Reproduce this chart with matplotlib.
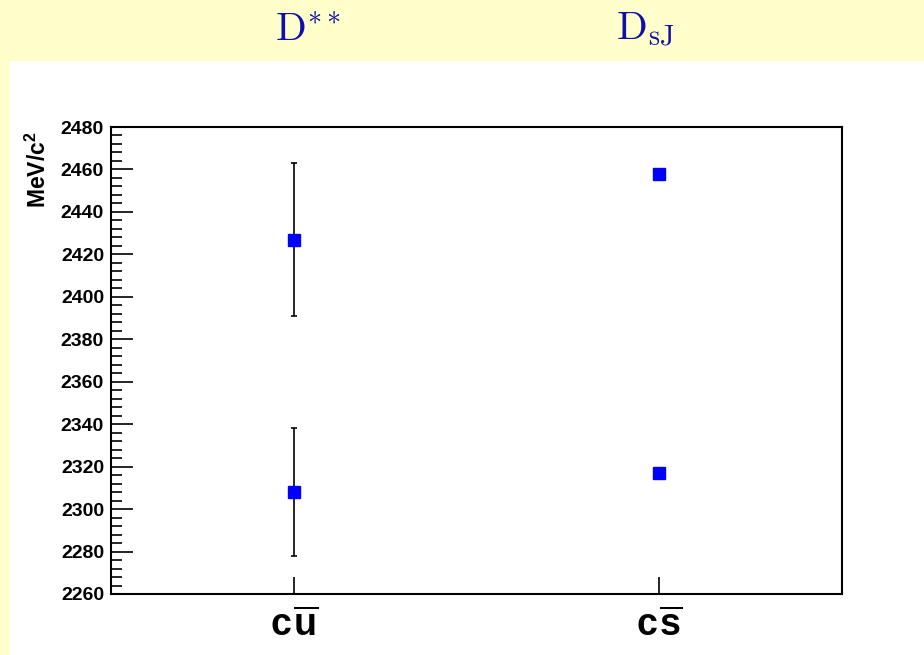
import matplotlib
matplotlib.use("Agg")
import matplotlib.pyplot as plt
from matplotlib.patches import Rectangle
from matplotlib.ticker import MultipleLocator

# ---- data ----
categories = [r"$\mathbf{c}\hspace{0.08}\overline{\mathbf{u}}$",
              r"$\mathbf{c}\hspace{0.08}\overline{\mathbf{s}}$"]
cat_pos = [1, 3]
dss_x = [1, 1]
dss_mass = [2427, 2308]
dss_err = [36, 30]
dsj_x = [3, 3]
dsj_mass = [2458, 2317]
group_titles = [r"$\mathrm{D}^{**}$", r"$\mathrm{D}_{\mathrm{sJ}}$"]
title_x_px = [308, 645]
y_label = r"MeV/c$^{\mathbf{2}}$"

plt.rcParams["mathtext.fontset"] = "custom"
plt.rcParams["mathtext.bf"] = "Liberation Sans:bold"
plt.rcParams["mathtext.rm"] = "Liberation Sans:bold"
plt.rcParams["mathtext.it"] = "Liberation Sans:bold"
plt.rcParams["font.family"] = ["Liberation Sans", "DejaVu Sans"]
plt.rcParams["font.weight"] = "bold"

YELLOW = "#FFFFCC"
fig = plt.figure(figsize=(9.24, 6.55), dpi=100, facecolor=YELLOW)
fig.patches.append(Rectangle((10 / 924, 0), 1, (655 - 61) / 655,
                             transform=fig.transFigure, facecolor="white",
                             edgecolor="none", zorder=-10))

ax = fig.add_axes([111 / 924, (655 - 594) / 655, 731 / 924, 467 / 655])
ax.set_zorder(1)
ax.set_xlim(0, 4)
ax.set_ylim(2260, 2480)

ax.errorbar(dss_x, dss_mass, yerr=dss_err, fmt="s", color="blue", ms=8,
            ecolor="black", elinewidth=1.2, capsize=2.5, capthick=1.2, zorder=3)
ax.plot(dsj_x, dsj_mass, "s", color="blue", ms=8, zorder=3)

ax.yaxis.set_major_locator(MultipleLocator(20))
ax.yaxis.set_minor_locator(MultipleLocator(4))
ax.tick_params(axis="y", which="major", direction="in", length=16, width=1.2,
               labelsize=14, pad=5, right=False)
ax.tick_params(axis="y", which="minor", direction="in", length=8, width=1.2,
               right=False)
for lab in ax.get_yticklabels():
    lab.set_fontweight("bold")

ax.set_xticks(cat_pos)
ax.set_xticklabels(categories)
ax.tick_params(axis="x", which="major", direction="in", length=12, width=1.2,
               labelsize=27, pad=10, top=False)
ax.xaxis.set_minor_locator(plt.NullLocator())

for s in ax.spines.values():
    s.set_linewidth(1.5)

fig.text(38 / 924, 1 - 170 / 655, y_label, rotation=90, fontsize=16.5,
         fontweight="bold", ha="center", va="center")

for xp, t in zip(title_x_px, group_titles):
    fig.text(xp / 924, 1 - 30 / 655, t, fontsize=29, color="#1010A8",
             ha="center", va="center", math_fontfamily="cm")

fig.savefig("out.png", dpi=100, facecolor=YELLOW)
